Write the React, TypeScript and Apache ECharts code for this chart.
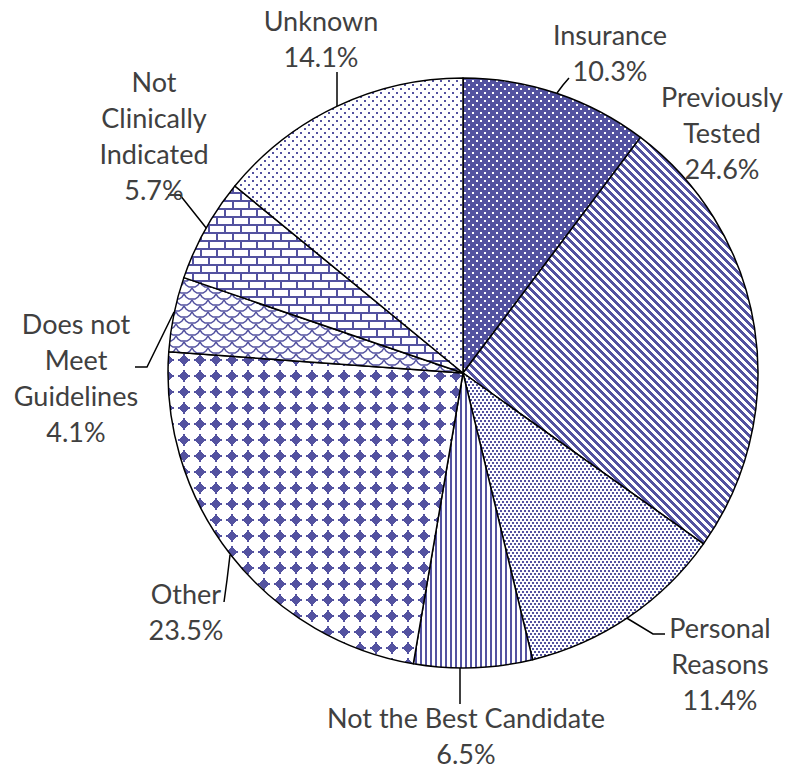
import React, { useEffect, useRef } from "react";
import * as echarts from "echarts";

// Reasons for not testing, share of responses (%)
const categories = [
  "Insurance",
  "Previously\nTested",
  "Personal\nReasons",
  "Not the Best Candidate",
  "Other",
  "Does not\nMeet\nGuidelines",
  "Not\nClinically\nIndicated",
  "Unknown",
];
const shares = [10.3, 24.6, 11.4, 6.5, 23.5, 4.1, 5.7, 14.1];

const BLUE = "#5352A0";
const TEXT = "#404040";

// label block centres and leader lines (page pixels)
const LABEL_AT: [number, number][] = [
  [610, 52],
  [722, 132],
  [720, 663],
  [466, 735],
  [186, 611],
  [76, 377],
  [154, 135],
  [321, 38],
];
const LEADERS: (number[][] | null)[] = [
  [[557, 93], [563, 85], [569, 78]],
  null,
  [[625, 617], [653, 634], [665, 634]],
  [[460, 668], [460, 686], [460, 704]],
  [[230, 555], [227, 580], [224, 602]],
  [[174, 312], [147, 367], [135, 367]],
  [[207, 229], [180, 195], [168, 195]],
  [[337, 106], [337, 90], [337, 72]],
];

type Painter = (ctx: CanvasRenderingContext2D, w: number, h: number) => void;

function tile(w: number, h: number, bg: string, paint: Painter) {
  const c = document.createElement("canvas");
  c.width = w;
  c.height = h;
  const ctx = c.getContext("2d")!;
  ctx.fillStyle = bg;
  ctx.fillRect(0, 0, w, h);
  ctx.fillStyle = BLUE;
  ctx.strokeStyle = BLUE;
  paint(ctx, w, h);
  return { image: c, repeat: "repeat", imageWidth: w, imageHeight: h } as any;
}

function pixels(test: (x: number, y: number) => boolean): Painter {
  return (ctx, w, h) => {
    for (let y = 0; y < h; y++)
      for (let x = 0; x < w; x++) if (test(x, y)) ctx.fillRect(x, y, 1, 1);
  };
}

function makeFills() {
  const insurance = tile(8, 8, BLUE, (ctx) => {
    ctx.fillStyle = "#ffffff";
    ctx.fillRect(0, 0, 2, 2);
    ctx.fillRect(4, 4, 2, 2);
  });
  const prevTested = tile(8, 8, "#ffffff", pixels((x, y) => (((x - y) % 8) + 8) % 8 < 4));
  const personal = tile(4, 6, "#ffffff", (ctx) => {
    ctx.fillRect(0, 0, 2, 2);
    ctx.fillRect(2, 3, 2, 2);
  });
  const notBest = tile(5, 5, "#ffffff", (ctx) => ctx.fillRect(0, 0, 2, 5));
  const other = tile(
    16,
    16,
    "#ffffff",
    pixels((x, y) => {
      const dx = Math.abs(x - 7.5);
      const dy = Math.abs(y - 7.5);
      return dx + dy <= 5 || (dx <= 0.5 && dy <= 5.5) || (dy <= 0.5 && dx <= 5.5);
    })
  );
  const guidelines = tile(16, 12, "#ffffff", (ctx) => {
    ctx.lineWidth = 1.5;
    const scale = (cx: number, cy: number) => {
      ctx.beginPath();
      ctx.moveTo(cx - 8, cy);
      ctx.lineTo(cx - 6, cy + 3);
      ctx.lineTo(cx - 3, cy + 5);
      ctx.lineTo(cx + 3, cy + 5);
      ctx.lineTo(cx + 6, cy + 3);
      ctx.lineTo(cx + 8, cy);
      ctx.stroke();
    };
    scale(8, 0);
    scale(0, 6);
    scale(16, 6);
    scale(8, 12);
  });
  const bricks = tile(16, 16, "#ffffff", (ctx) => {
    ctx.fillRect(0, 0, 16, 2);
    ctx.fillRect(0, 8, 16, 2);
    ctx.fillRect(0, 0, 2, 8);
    ctx.fillRect(8, 8, 2, 8);
  });
  const unknown = tile(8, 8, "#ffffff", (ctx) => {
    ctx.fillRect(0, 0, 2, 2);
    ctx.fillRect(4, 4, 2, 2);
  });
  return [insurance, prevTested, personal, notBest, other, guidelines, bricks, unknown];
}

export default function App() {
  const ref = useRef<HTMLDivElement>(null);

  useEffect(() => {
    if (!ref.current) return;
    const chart = echarts.init(ref.current, null, { renderer: "svg" });
    const fills = makeFills();

    chart.setOption({
      animation: false,
      backgroundColor: "#ffffff",
      series: [
        {
          type: "pie",
          center: [463, 373],
          radius: 295,
          startAngle: 90,
          clockwise: true,
          avoidLabelOverlap: false,
          itemStyle: { borderColor: "#000000", borderWidth: 1.5 },
          label: {
            show: true,
            position: "outside",
            color: TEXT,
            fontFamily: "Lato",
            fontSize: 27,
            lineHeight: 36,
            align: "center",
            formatter: (p: any) => `${p.name}\n${p.value.toFixed(1)}%`,
          },
          labelLine: { show: true, lineStyle: { color: "#000000", width: 1.5 } },
          labelLayout: (p: any) => {
            const i = p.dataIndex;
            const out: any = {
              x: LABEL_AT[i][0],
              y: LABEL_AT[i][1],
              align: "center",
              verticalAlign: "middle",
            };
            if (LEADERS[i]) out.labelLinePoints = LEADERS[i];
            return out;
          },
          emphasis: { disabled: true },
          data: categories.map((name, i) => ({
            name,
            value: shares[i],
            itemStyle: { color: fills[i] },
            labelLine: { show: LEADERS[i] !== null },
          })),
        },
      ],
    });

    return () => chart.dispose();
  }, []);

  return (
    <div
      ref={ref}
      style={{ position: "absolute", left: 0, top: 0, width: 798, height: 769 }}
    />
  );
}
